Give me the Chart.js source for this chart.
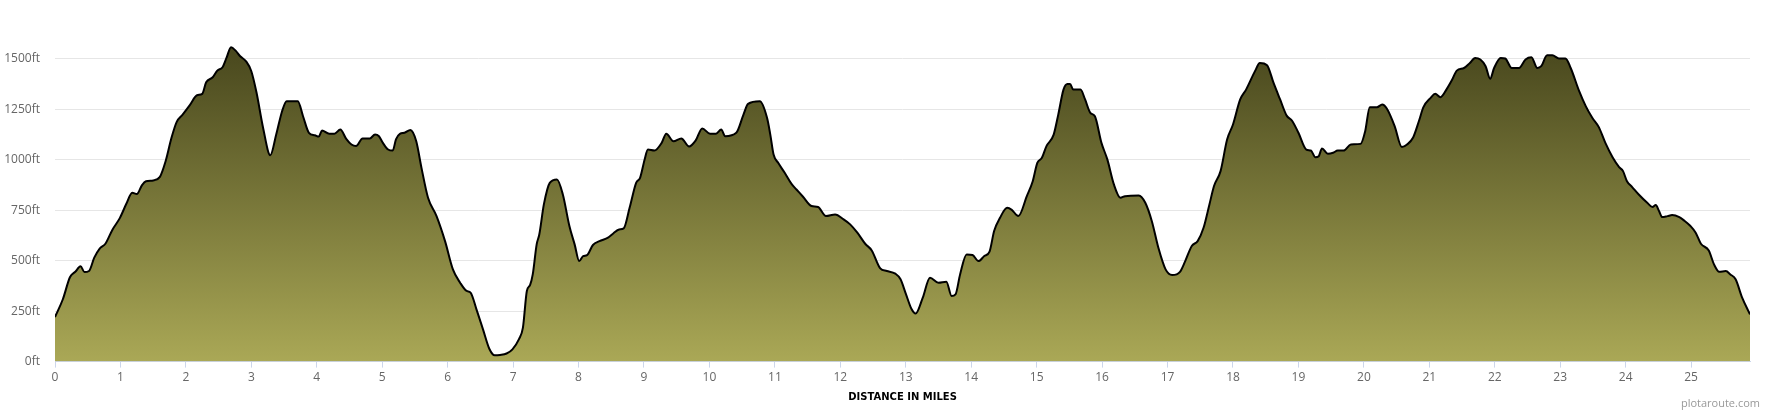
<!DOCTYPE html>
<html lang="en">
<head>
  <meta charset="UTF-8">
  <title>Elevation Profile</title>
  <script src="https://cdn.jsdelivr.net/npm/chart.js"></script>
  <style>
    body {
      margin: 0;
      background: #fff;
    }

    .wrap {
      position: relative;
      width: 1770px;
      height: 410px;
    }

    .credit {
      position: absolute;
      right: 10px;
      bottom: 0;
      font: 11px "Open Sans", sans-serif;
      line-height: 15px;
      color: #999;
    }
  </style>
</head>
<body>
  <div class="wrap">
    <canvas id="profile" width="1770" height="410"></canvas>
    <div class="credit">plotaroute.com</div>
  </div>

  <script>
    // distance along the route (miles) and elevation (ft)
    const miles = [
      0.00, 0.12, 0.23, 0.31, 0.39, 0.45, 0.52, 0.60, 0.68, 0.77, 0.88, 0.99,
      1.09, 1.18, 1.25, 1.33, 1.39, 1.50, 1.60, 1.69, 1.78, 1.86, 1.95, 2.06,
      2.17, 2.25, 2.31, 2.41, 2.48, 2.56, 2.62, 2.69, 2.76, 2.83, 2.92, 3.00,
      3.08, 3.18, 3.29, 3.38, 3.47, 3.54, 3.71, 3.79, 3.88, 3.97, 4.03, 4.08,
      4.19, 4.27, 4.36, 4.45, 4.53, 4.60, 4.70, 4.81, 4.89, 4.95, 5.01, 5.09,
      5.16, 5.21, 5.27, 5.34, 5.43, 5.52, 5.60, 5.70, 5.83, 5.96, 6.08, 6.19,
      6.29, 6.35, 6.44, 6.54, 6.64, 6.72, 6.80, 6.90, 6.99, 7.09, 7.15, 7.21,
      7.26, 7.30, 7.36, 7.40, 7.47, 7.56, 7.67, 7.76, 7.86, 7.94, 8.01, 8.07,
      8.13, 8.22, 8.32, 8.45, 8.53, 8.62, 8.69, 8.78, 8.88, 8.94, 9.01, 9.06,
      9.16, 9.27, 9.34, 9.45, 9.57, 9.69, 9.79, 9.89, 10.01, 10.10, 10.18, 10.24,
      10.41, 10.52, 10.59, 10.77, 10.88, 10.93, 10.98, 11.05, 11.15, 11.26, 11.33, 11.43,
      11.56, 11.66, 11.78, 11.92, 12.05, 12.15, 12.26, 12.38, 12.48, 12.61, 12.71, 12.84,
      12.92, 13.00, 13.09, 13.15, 13.26, 13.37, 13.50, 13.62, 13.70, 13.76, 13.83, 13.93,
      14.02, 14.11, 14.20, 14.28, 14.35, 14.44, 14.55, 14.62, 14.72, 14.85, 14.94, 15.01,
      15.08, 15.15, 15.26, 15.33, 15.41, 15.47, 15.51, 15.56, 15.67, 15.74, 15.82, 15.89,
      15.99, 16.08, 16.18, 16.28, 16.35, 16.56, 16.66, 16.76, 16.86, 16.97, 17.07, 17.19,
      17.27, 17.37, 17.46, 17.55, 17.64, 17.71, 17.81, 17.91, 18.00, 18.11, 18.20, 18.34,
      18.41, 18.52, 18.62, 18.72, 18.82, 18.90, 19.00, 19.12, 19.19, 19.26, 19.31, 19.36,
      19.45, 19.53, 19.60, 19.69, 19.80, 19.95, 20.02, 20.09, 20.20, 20.28, 20.35, 20.47,
      20.58, 20.66, 20.75, 20.84, 20.91, 21.02, 21.09, 21.17, 21.27, 21.35, 21.42, 21.53,
      21.62, 21.70, 21.78, 21.86, 21.93, 21.99, 22.09, 22.16, 22.26, 22.37, 22.47, 22.56,
      22.65, 22.71, 22.80, 22.88, 22.98, 23.08, 23.16, 23.29, 23.39, 23.49, 23.59, 23.69,
      23.80, 23.90, 23.96, 24.02, 24.10, 24.20, 24.33, 24.41, 24.46, 24.51, 24.56, 24.64,
      24.71, 24.82, 24.89, 24.99, 25.07, 25.15, 25.27, 25.35, 25.43, 25.53, 25.60, 25.68,
      25.78, 25.90
    ];

    const elevationFt = [
      221, 309, 419, 445, 472, 444, 449, 515, 559, 584, 655, 711,
      782, 837, 830, 875, 894, 898, 914, 993, 1109, 1188, 1224, 1271,
      1320, 1327, 1384, 1409, 1442, 1459, 1505, 1558, 1541, 1513, 1488, 1439,
      1332, 1158, 1023, 1125, 1241, 1290, 1290, 1216, 1134, 1122, 1115, 1145,
      1129, 1129, 1150, 1104, 1076, 1068, 1106, 1106, 1125, 1117, 1084, 1051,
      1046, 1101, 1129, 1134, 1148, 1092, 960, 812, 721, 597, 457, 391,
      350, 342, 259, 160, 61, 31, 33, 40, 61, 111, 168, 350,
      380, 432, 581, 630, 779, 886, 903, 828, 672, 581, 498, 523,
      528, 578, 597, 614, 635, 655, 660, 762, 886, 911, 1002, 1051,
      1046, 1084, 1129, 1092, 1106, 1066, 1096, 1155, 1129, 1129, 1150, 1117,
      1134, 1224, 1277, 1290, 1208, 1125, 1026, 985, 936, 878, 853, 817,
      771, 766, 721, 729, 705, 680, 639, 584, 551, 462, 449, 436,
      408, 337, 259, 238, 317, 416, 391, 396, 325, 333, 432, 531,
      528, 498, 523, 545, 647, 713, 762, 752, 721, 820, 894, 985,
      1010, 1068, 1125, 1224, 1348, 1376, 1376, 1348, 1348, 1299, 1233, 1216,
      1084, 1002, 878, 812, 820, 823, 787, 696, 564, 457, 429, 445,
      498, 573, 597, 663, 779, 870, 944, 1101, 1175, 1299, 1348, 1442,
      1480, 1469, 1381, 1299, 1219, 1195, 1134, 1051, 1046, 1013, 1018, 1056,
      1030, 1035, 1046, 1046, 1076, 1079, 1142, 1261, 1261, 1274, 1254, 1167,
      1063, 1076, 1109, 1191, 1261, 1307, 1327, 1310, 1353, 1398, 1442, 1455,
      1480, 1505, 1497, 1464, 1402, 1455, 1505, 1502, 1455, 1455, 1497, 1508,
      1455, 1464, 1518, 1518, 1502, 1502, 1455, 1340, 1266, 1208, 1162, 1084,
      1013, 964, 944, 894, 865, 828, 787, 766, 776, 746, 716, 721,
      726, 716, 700, 672, 639, 584, 551, 482, 445, 449, 432, 408,
      317, 234
    ];

    // axis ticks
    const xTicks = [0, 1, 2, 3, 4, 5, 6, 7, 8, 9, 10, 11, 12, 13, 14, 15, 16, 17, 18, 19, 20, 21, 22, 23, 24, 25];
    const yTicks = [0, 250, 500, 750, 1000, 1250, 1500];

    const xMax = 25.9;
    const yMax = 1682;

    const labelFont = { family: '"Open Sans", sans-serif', size: 12 };

    const ctx = document.getElementById('profile').getContext('2d');

    new Chart(ctx, {
      type: 'line',
      data: {
        datasets: [{
          data: miles.map((m, i) => ({ x: m, y: elevationFt[i] })),
          borderColor: '#000',
          borderWidth: 2,
          pointRadius: 0,
          cubicInterpolationMode: 'monotone',
          fill: 'origin',
          backgroundColor: (c) => {
            const { chart } = c;
            if (!chart.chartArea) return null;
            const y = chart.scales.y;
            const g = chart.ctx.createLinearGradient(0, y.getPixelForValue(1560), 0, y.getPixelForValue(0));
            g.addColorStop(0, '#48471d');
            g.addColorStop(1, '#aaa856');
            return g;
          }
        }]
      },
      options: {
        responsive: false,
        animation: false,
        layout: {
          padding: { top: 12, right: 20, bottom: 7, left: 0 }
        },
        plugins: {
          legend: { display: false },
          tooltip: { enabled: false }
        },
        scales: {
          x: {
            type: 'linear',
            min: 0,
            max: xMax,
            afterBuildTicks: (s) => { s.ticks = xTicks.map(v => ({ value: v })); },
            ticks: {
              autoSkip: false,
              maxRotation: 0,
              padding: 3,
              color: '#666',
              font: labelFont
            },
            grid: {
              drawOnChartArea: false,
              tickLength: 6,
              color: '#ccd6eb'
            },
            border: { color: '#ccd6eb' },
            title: {
              display: true,
              text: 'DISTANCE IN MILES',
              color: '#000',
              font: { family: '"DejaVu Sans", sans-serif', size: 10, weight: 'bold' },
              padding: { top: 3, bottom: 0 }
            }
          },
          y: {
            min: 0,
            max: yMax,
            afterBuildTicks: (s) => { s.ticks = yTicks.map(v => ({ value: v })); },
            afterFit: (s) => { s.width = 55; },
            ticks: {
              padding: 15,
              color: '#666',
              font: labelFont,
              callback: (v) => v + 'ft'
            },
            grid: {
              color: '#e6e6e6',
              drawTicks: false
            },
            border: { display: false }
          }
        }
      }
    });
  </script>
</body>
</html>
